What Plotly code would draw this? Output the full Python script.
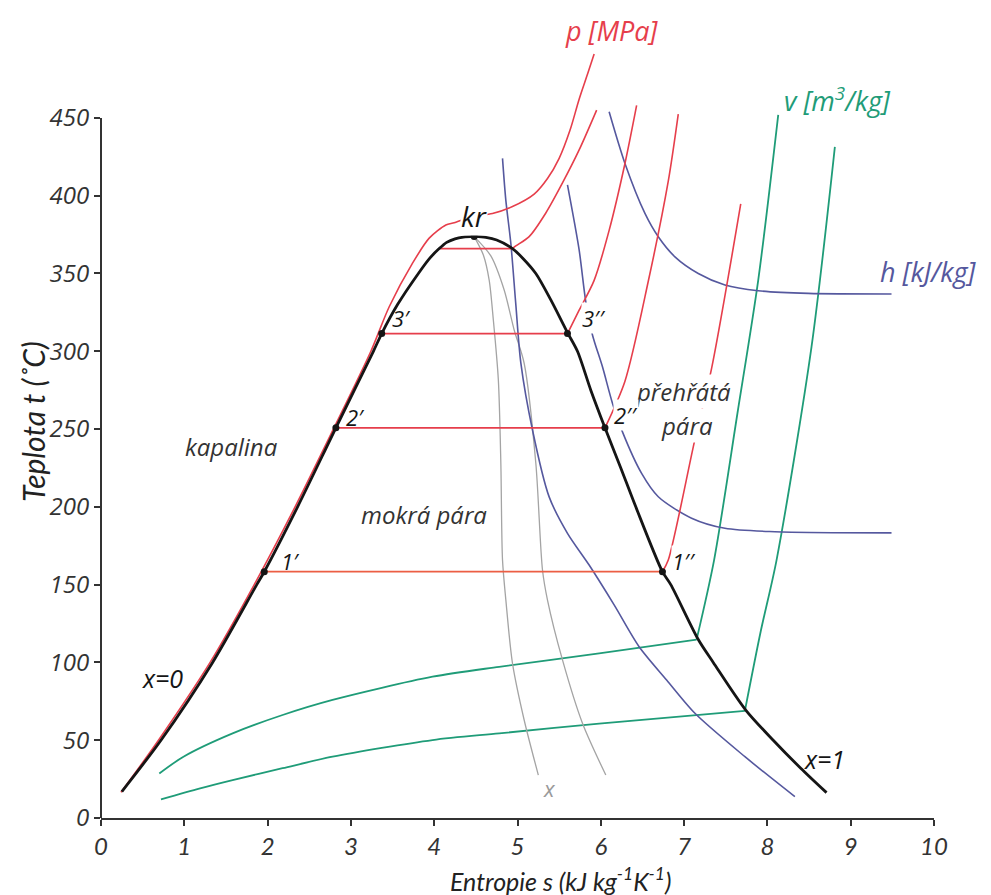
import plotly.graph_objects as go

# ---------------- data (s in kJ/kg/K, t in degC) ----------------
# saturation curve
liq_s = [0.25, 0.72, 1.34, 1.87, 1.96, 2.36, 2.82, 3.27, 3.37, 3.56, 3.81, 3.95, 4.06, 4.15, 4.25, 4.35, 4.48]
liq_t = [17, 50, 100, 150, 158.3, 200, 250.8, 300, 311.4, 330, 350, 360, 366, 370, 372.3, 373.4, 373.8]
vap_s = [4.48, 4.62, 4.75, 4.94, 5.06, 5.22, 5.40, 5.60, 5.72, 5.88, 6.05, 6.24, 6.42, 6.74, 6.84, 7.17, 7.35, 7.74, 8.07, 8.40, 8.71]
vap_t = [373.8, 373.2, 371.5, 366, 360, 350, 333, 312, 300, 275, 250.8, 225, 200, 158.3, 150, 114.7, 100, 69.4, 50, 32, 16.3]

# marked states 1', 2', 3', 1'', 2'', 3'', kr
pt_s = [1.96, 2.82, 3.37, 6.74, 6.05, 5.60, 4.48]
pt_t = [158.3, 250.8, 311.4, 158.3, 250.8, 311.4, 373.8]

# isobars (red)
p1_s = [0.24, 0.69, 1.31, 1.84, 2.33, 2.79, 3.24, 3.46, 3.74, 3.94, 4.14, 4.24, 4.45, 4.70, 4.94, 5.20, 5.36, 5.50, 5.63, 5.74, 5.84, 5.92]
p1_t = [16.5, 50, 100, 150, 200, 250, 300, 328.6, 356.6, 372.7, 381.2, 382.6, 386.5, 388.5, 393, 401, 411, 424, 442, 462, 478, 491]
p2_flat_s = [4.06, 4.94]
p2_flat_t = [366, 366]
p2_s = [4.94, 4.98, 5.14, 5.34, 5.54, 5.74, 5.95]
p2_t = [366, 367.7, 373.7, 388.9, 408.2, 429.4, 455]
p3_flat_s = [3.37, 5.60]
p3_flat_t = [311.4, 311.4]
p3_s = [5.60, 5.74, 5.92, 6.10, 6.29, 6.43]
p3_t = [311.4, 326.4, 345.6, 377.7, 420.7, 458]
p4_flat_s = [2.82, 6.05]
p4_flat_t = [250.8, 250.8]
p4_s = [6.05, 6.29, 6.57, 6.81, 6.93]
p4_t = [250.8, 280.8, 345, 409.3, 452.4]
p5_flat_s = [1.96, 6.74]
p5_flat_t = [158.3, 158.3]
p5_s = [6.74, 6.81, 7.13, 7.33, 7.68]
p5_t = [158.3, 165.8, 243.4, 289, 394.7]

# isochores (green)
v1_wet_s = [0.70, 0.99, 1.58, 2.18, 2.78, 3.98, 4.78, 5.98, 7.15]
v1_wet_t = [28.6, 39.4, 54.4, 66.2, 75.9, 90.8, 97.2, 105.8, 114.7]
v1_s = [7.15, 7.36, 7.64, 7.89, 8.13]
v1_t = [114.7, 165.8, 260, 345.8, 452]
v2_wet_s = [0.72, 1.19, 1.58, 2.18, 2.78, 3.98, 4.78, 5.98, 7.73]
v2_wet_t = [12, 19.1, 24.4, 32, 39.4, 50.1, 54.4, 60.7, 68.9]
v2_s = [7.73, 7.92, 8.11, 8.53, 8.81]
v2_t = [68.9, 120, 165.8, 303, 431.4]

# isenthalps (blue)
h1_s = [4.82, 4.86, 4.92, 4.98, 5.04, 5.18, 5.38, 5.60, 5.86, 6.16, 6.46, 6.79, 7.13, 7.73, 8.33]
h1_t = [424, 397, 369.3, 330, 292.5, 249.4, 206.4, 183, 162.6, 137, 110.1, 88.7, 67.3, 39.4, 13.7]
h2_s = [5.60, 5.74, 5.82, 5.90, 6.02, 6.14, 6.26, 6.49, 6.69, 7.09, 7.49, 8.09, 9.49]
h2_t = [406.9, 365.1, 331.8, 310.5, 290, 266.6, 248.2, 221.5, 206.5, 192.7, 186.2, 184, 183.3]
h3_s = [6.10, 6.29, 6.53, 6.69, 6.89, 7.17, 7.49, 7.89, 8.49, 9.49]
h3_t = [453.9, 420.7, 388.6, 373.6, 360.7, 350, 342.6, 338.9, 337.2, 336.8]

# constant dryness lines (gray)
x1_s = [4.48, 4.59, 4.66, 4.71, 4.77, 4.80, 4.82, 4.86, 4.94, 5.08, 5.25]
x1_t = [373.7, 361.9, 345.8, 320.1, 281.6, 228.2, 165.9, 140.2, 99.4, 63, 27.6]
x2_s = [4.48, 4.68, 4.84, 4.96, 5.08, 5.22, 5.30, 5.36, 5.54, 5.78, 6.06]
x2_t = [373.7, 361.3, 339.4, 313.7, 292.3, 228, 159.4, 140.1, 101.6, 60.9, 27.6]

# axis ticks
x_ticks = [0, 1, 2, 3, 4, 5, 6, 7, 8, 9, 10]
y_ticks = [0, 50, 100, 150, 200, 250, 300, 350, 400, 450]
x_range = [0, 10]
y_range = [0, 520]

# text labels
lab_text = ["kr", "p [MPa]", "v [m<sup>3</sup>/kg]", "h [kJ/kg]", "kapalina", "mokrá pára",
            "přehřátá", "pára", "x=0", "x=1", "x",
            "1′", "2′", "3′", "1′′", "2′′", "3′′"]
lab_s = [4.48, 6.14, 8.84, 9.93, 1.57, 3.88, 6.99, 7.03, 0.74, 8.68, 5.38,
         2.27, 3.05, 3.61, 7.00, 6.30, 5.92]
lab_t = [387.0, 506.5, 461.6, 351.0, 238.5, 194.8, 273.9, 252.6, 90.0, 38.0, 19.3,
         165.0, 257.5, 321.4, 165.5, 259.0, 321.4]

RED = "#e63e4b"
ORANGE = "#ec5e44"
BLUE = "#55589e"
GREEN = "#1f9c78"
GRAY = "#a4a4a4"
BLACK = "#151515"
TXT = "#333333"

lab_color = [BLACK, RED, GREEN, BLUE, TXT, TXT, TXT, TXT, BLACK, BLACK, "#9a9a9a",
             BLACK, BLACK, BLACK, BLACK, BLACK, BLACK]
lab_size = [28, 27, 27, 27, 24, 24, 24, 24, 25, 25, 22, 22, 22, 22, 22, 22, 22]
lab_bg = [True, False, False, False, False, False, True, True, False, False, False,
          False, False, False, True, True, True]

fig = go.Figure()


def add_line(s, t, color, width, shape="spline"):
    fig.add_trace(go.Scatter(x=s, y=t, mode="lines",
                             line=dict(color=color, width=width, shape=shape, smoothing=0.8),
                             hoverinfo="skip", showlegend=False))


# green isochores
for s, t in [(v1_wet_s, v1_wet_t), (v1_s, v1_t), (v2_wet_s, v2_wet_t), (v2_s, v2_t)]:
    add_line(s, t, GREEN, 1.8)
# gray dryness lines
for s, t in [(x1_s, x1_t), (x2_s, x2_t)]:
    add_line(s, t, GRAY, 1.3)
# blue isenthalps
for s, t in [(h1_s, h1_t), (h2_s, h2_t), (h3_s, h3_t)]:
    add_line(s, t, BLUE, 1.6)
# red isobars
add_line(p1_s, p1_t, RED, 1.6)
for s, t in [(p2_flat_s, p2_flat_t), (p3_flat_s, p3_flat_t), (p4_flat_s, p4_flat_t)]:
    add_line(s, t, RED, 1.8, shape="linear")
add_line(p5_flat_s, p5_flat_t, ORANGE, 1.8, shape="linear")
for s, t in [(p2_s, p2_t), (p3_s, p3_t), (p4_s, p4_t), (p5_s, p5_t)]:
    add_line(s, t, RED, 1.6)
# saturation dome
add_line(liq_s, liq_t, BLACK, 2.8)
add_line(vap_s, vap_t, BLACK, 2.8)
# state points
fig.add_trace(go.Scatter(x=pt_s, y=pt_t, mode="markers",
                         marker=dict(color=BLACK, size=7), hoverinfo="skip", showlegend=False))

annotations = []
for txt, s, t, c, sz, bg in zip(lab_text, lab_s, lab_t, lab_color, lab_size, lab_bg):
    annotations.append(dict(
        x=s, y=t, xref="x", yref="y", text=txt, showarrow=False,
        xanchor="center", yanchor="middle",
        font=dict(family="Open Sans", size=sz, color=c, style="italic"),
        bgcolor="white" if bg else "rgba(0,0,0,0)", borderpad=0,
    ))

# page geometry (page has an 8px body margin)
W, H = 975, 887
ML, MR, MT, MB = 93, 49, 1, 77
plot_h = H - MT - MB

# axis titles
annotations.append(dict(x=0, y=(818 - 422) / plot_h, xref="paper", yref="paper",
                        text="Teplota t (˚C)", textangle=-90, showarrow=False,
                        xanchor="center", yanchor="middle", xshift=-68,
                        font=dict(family="Lato", size=30, color="#222222", style="italic")))
annotations.append(dict(x=(560 - 101) / 833, y=0, xref="paper", yref="paper",
                        text="Entropie s (kJ kg<sup>-1</sup>K<sup>-1</sup>)", showarrow=False,
                        xanchor="center", yanchor="middle", yshift=-61,
                        font=dict(family="Lato", size=25, color="#222222", style="italic")))

fig.update_layout(
    width=W, height=H,
    margin=dict(l=ML, r=MR, t=MT, b=MB, pad=0),
    plot_bgcolor="white", paper_bgcolor="white",
    annotations=annotations,
    shapes=[dict(type="line", xref="paper", yref="paper", x0=0, x1=0, y0=0,
                 y1=(y_ticks[-1] - y_range[0]) / (y_range[1] - y_range[0]),
                 line=dict(color="#333333", width=2))],
    xaxis=dict(range=x_range, tickvals=x_ticks, ticks="outside", ticklen=6, tickwidth=1.5,
               tickcolor="#333333", showline=True, linecolor="#333333", linewidth=2,
               showgrid=False, zeroline=False, ticklabelstandoff=0,
               tickfont=dict(family="Lato", size=24, color="#333333", style="italic")),
    yaxis=dict(range=y_range, tickvals=y_ticks, ticks="outside", ticklen=6, tickwidth=1.5,
               tickcolor="#333333", showline=False, showgrid=False, zeroline=False,
               tickfont=dict(family="Open Sans", size=24, color="#333333", style="italic")),
)

fig.write_html("out.html")
